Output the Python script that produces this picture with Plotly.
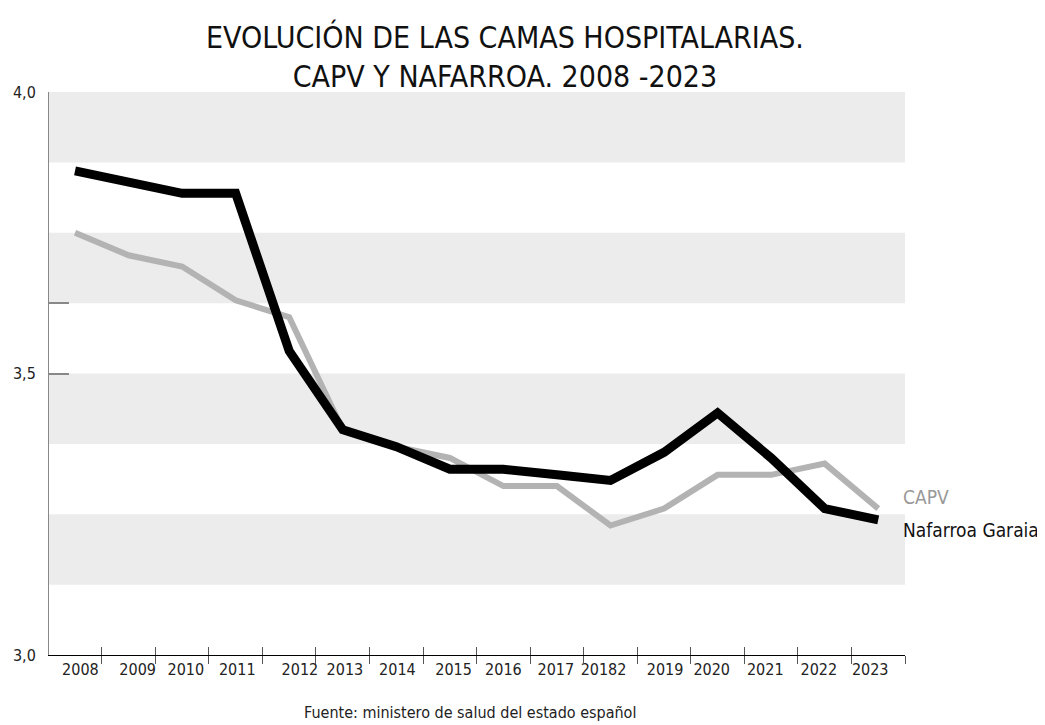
import plotly.graph_objects as go

years = ["2008", "2009", "2010", "2011", "2012", "2013", "2014", "2015",
         "2016", "2017", "20182", "2019", "2020", "2021", "2022", "2023"]
capv = [3.75, 3.71, 3.69, 3.63, 3.60, 3.40, 3.37, 3.35,
        3.30, 3.30, 3.23, 3.26, 3.32, 3.32, 3.34, 3.26]
nafarroa = [3.86, 3.84, 3.82, 3.82, 3.54, 3.40, 3.37, 3.33,
            3.33, 3.32, 3.31, 3.36, 3.43, 3.35, 3.26, 3.24]
y_ticks = [3.0, 3.5, 3.625, 4.0]
y_ticktext = ["3,0", "3,5", "", "4,0"]
label_shift = [0.1, 0.17, 0.07, 0.03, 0.2, 0.04, 0.02, 0.07,
               0.0, -0.02, -0.13, 0.02, -0.11, -0.11, -0.11, -0.15]

FONT = "Liberation Sans Narrow, DejaVu Sans Condensed, Roboto, sans-serif"

idx = list(range(len(years)))

fig = go.Figure()
fig.add_trace(go.Scatter(x=idx, y=capv, mode="lines", name="CAPV",
                         line=dict(color="#b3b3b3", width=6), showlegend=False))
fig.add_trace(go.Scatter(x=idx, y=nafarroa, mode="lines", name="Nafarroa Garaia",
                         line=dict(color="#000000", width=9), showlegend=False))

# alternating bands
shapes = []
band = 0.125
lo = 3.125
while lo < 4.0:
    shapes.append(dict(type="rect", xref="paper", yref="y", x0=0, x1=1,
                       y0=lo, y1=lo + band, fillcolor="#ececec",
                       line=dict(width=0), layer="below"))
    lo += 2 * band

xr = [-0.486, 15.5]
fig.update_layout(
    width=1045, height=725,
    margin=dict(l=41, r=148, t=84, b=78, autoexpand=False),
    plot_bgcolor="white", paper_bgcolor="white",
    shapes=shapes,
    font=dict(family=FONT, color="#222"),
    xaxis=dict(range=xr, tickvals=[i + s for i, s in zip(idx, label_shift)],
               ticktext=years, ticks="", showgrid=False, zeroline=False,
               showline=True, linecolor="#000", linewidth=1, automargin=False,
               tickfont=dict(size=16, family=FONT, color="#222")),
    xaxis2=dict(range=xr, overlaying="x", anchor="y", side="bottom",
                tickvals=[i + 0.5 for i in idx], showticklabels=False,
                ticks="outside", ticklen=8, tickcolor="#555", tickwidth=1,
                showgrid=False, zeroline=False, showline=False, automargin=False),
    xaxis3=dict(range=xr, overlaying="x", anchor="y", side="bottom",
                tickvals=[i + 0.5 for i in idx], showticklabels=False,
                ticks="inside", ticklen=8, tickcolor="#555", tickwidth=1,
                showgrid=False, zeroline=False, showline=False, automargin=False),
    yaxis=dict(range=[3.0, 4.0], tickvals=y_ticks, ticktext=y_ticktext,
               ticks="inside", ticklen=20, tickcolor="#888", tickwidth=2,
               ticklabelstandoff=9, automargin=False,
               showgrid=False, zeroline=False, showline=True,
               linecolor="#888", linewidth=1,
               tickfont=dict(size=16, family=FONT, color="#222")),
)
# invisible traces to activate overlay axes
fig.add_trace(go.Scatter(x=[None], y=[None], xaxis="x2", showlegend=False, hoverinfo="skip"))
fig.add_trace(go.Scatter(x=[None], y=[None], xaxis="x3", showlegend=False, hoverinfo="skip"))

fig.add_annotation(xref="paper", yref="paper", x=0.533, y=1.0, yanchor="bottom",
                   yshift=-4,
                   text="EVOLUCIÓN DE LAS CAMAS HOSPITALARIAS.<br>CAPV Y NAFARROA. 2008 -2023",
                   showarrow=False, font=dict(size=30, family=FONT, color="#111"))
fig.add_annotation(xref="paper", yref="paper", x=0.492, y=-0.103, yanchor="middle",
                   text="Fuente: ministero de salud del estado español",
                   showarrow=False, font=dict(size=16, family=FONT, color="#222"))
fig.add_annotation(xref="paper", yref="y", x=1.0, xanchor="left", xshift=-4,
                   y=capv[-1] + 0.02,
                   text="CAPV", showarrow=False,
                   font=dict(size=19, family=FONT, color="#999"))
fig.add_annotation(xref="paper", yref="y", x=1.0, xanchor="left", xshift=-4,
                   y=nafarroa[-1] - 0.018,
                   text="Nafarroa Garaia", showarrow=False,
                   font=dict(size=19, family=FONT, color="#111"))

fig.write_html("out.html")
